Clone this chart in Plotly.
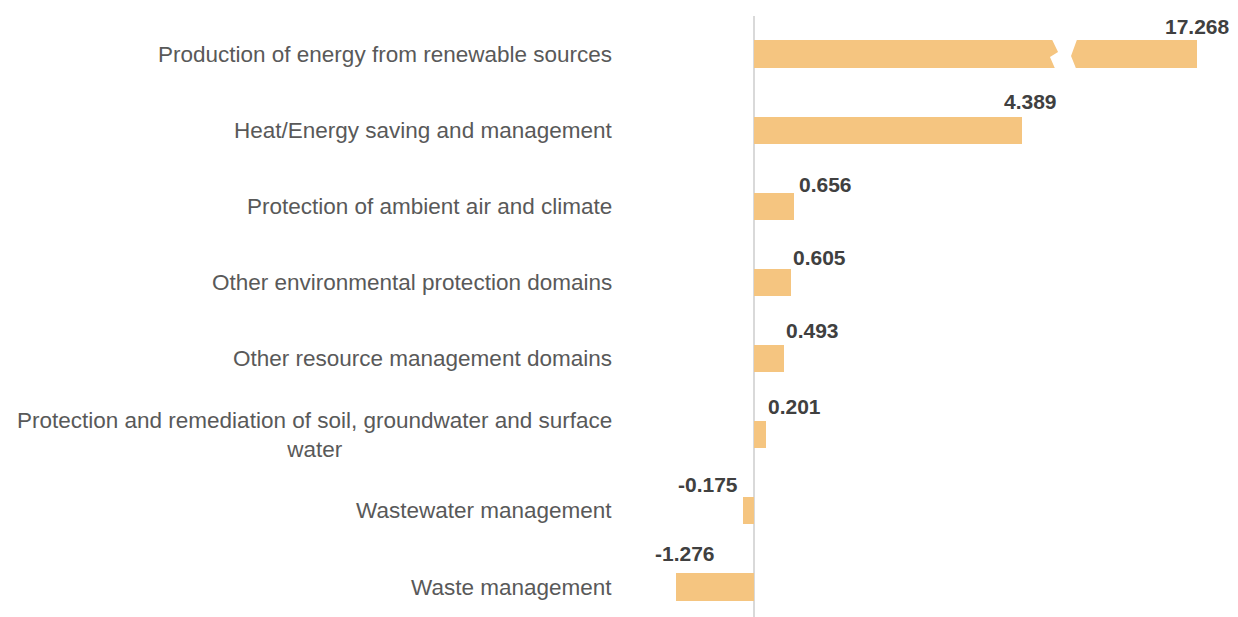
import plotly.graph_objects as go

categories = [
    "Production of energy from renewable sources",
    "Heat/Energy saving and management",
    "Protection of ambient air and climate",
    "Other environmental protection domains",
    "Other resource management domains",
    "Protection and remediation of soil, groundwater and surface<br>water",
    "Wastewater management",
    "Waste management",
]
values = [17.268, 4.389, 0.656, 0.605, 0.493, 0.201, -0.175, -1.276]
value_labels = ["17.268", "4.389", "0.656", "0.605", "0.493", "0.201", "-0.175", "-1.276"]

# style: axis break for the oversized bar
DISPLAY_CAP = 7.26
label_xshift = [1, 9, 31, 29, 28, 28, -35, 9]
label_yshift = [28, 29, 22, 25, 28, 28, 26, 34]

BAR_COLOR = "#F5C580"
ypos = list(range(len(categories)))
display_vals = [min(v, DISPLAY_CAP) for v in values]

fig = go.Figure()
fig.add_trace(go.Bar(
    x=display_vals, y=ypos, orientation="h",
    marker=dict(color=BAR_COLOR, line=dict(width=0)),
    width=0.355, hoverinfo="skip",
))

annotations = []
for i, (cat, lab) in enumerate(zip(categories, value_labels)):
    annotations.append(dict(
        x=0, xref="paper", y=ypos[i], yref="y", text=cat,
        xanchor="right", yanchor="middle", align="center", xshift=-26,
        showarrow=False,
        font=dict(family="Liberation Sans, Arial, sans-serif", size=22.5, color="#595959"),
    ))
    annotations.append(dict(
        x=display_vals[i], xref="x", y=ypos[i], yref="y", text="<b>" + lab + "</b>",
        xanchor="center", yanchor="middle", xshift=label_xshift[i], yshift=label_yshift[i],
        showarrow=False,
        font=dict(family="Liberation Sans, Arial, sans-serif", size=21, color="#404040"),
    ))

# break mark over the capped bar (white zig-zag gap)
shapes = []
for i, v in enumerate(values):
    if v > DISPLAY_CAP:
        y0 = ypos[i]
        pts = [(4.885, -0.19), (4.984, -0.026), (4.852, 0.039), (4.934, 0.19),
               (5.279, 0.19), (5.197, 0.026), (5.295, -0.19)]
        path = "M " + " L ".join(f"{px},{y0 + py}" for px, py in pts) + " Z"
        shapes.append(dict(type="path", path=path, xref="x", yref="y",
                           fillcolor="white", line=dict(width=0), layer="above"))

fig.update_layout(
    width=1230, height=609,
    margin=dict(l=632, r=8, t=8, b=0),
    plot_bgcolor="white", paper_bgcolor="white",
    showlegend=False,
    bargap=0,
    annotations=annotations,
    shapes=shapes,
    xaxis=dict(range=[-1.869, 7.803], showgrid=False, showticklabels=False,
               zeroline=True, zerolinecolor="#D9D9D9", zerolinewidth=1.5,
               showline=False, fixedrange=True),
    yaxis=dict(range=[7.394, -0.499], showgrid=False, showticklabels=False,
               zeroline=False, showline=False, fixedrange=True),
)

fig.write_html("out.html")
